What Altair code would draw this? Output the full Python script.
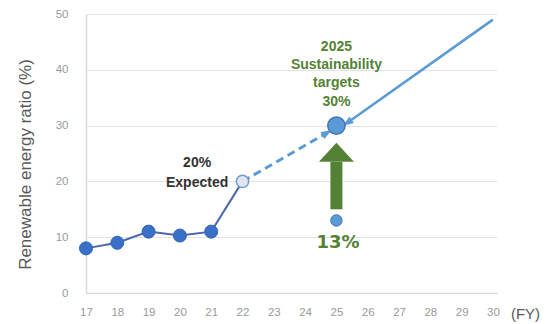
import math
import altair as alt
import pandas as pd

# ---- data ----
years = [17, 18, 19, 20, 21, 22]
ratios = [8, 9, 11, 10.3, 11, 20]
actual_flag = [True, True, True, True, True, False]

target_year, target_value = 25, 30
plan_year, plan_value = 25, 13

dash_start = (22, 20)
dash_end = (24.7, 28.7)
arrow_start = (30, 49)
arrow_end = (25.35, 30.5)

green_shaft = (15, 23.5)
green_head_base = 23.5

x_ticks = list(range(17, 31))
y_ticks = [0, 10, 20, 30, 40, 50]

expected_lines = ["20%", "Expected"]
expected_pos = [(20.55, 23.3), (20.55, 19.7)]
target_lines = ["2025", "Sustainability", "targets", "30%"]
target_ys = [44.1, 40.9, 37.6, 34.2]
plan_label = "13%"
plan_label_pos = (25.05, 9.0)

# ---- layout ----
W, H = 411, 279
XDOM = [17, 30.13]
YDOM = [0, 50]
px_x = W / (XDOM[1] - XDOM[0])
px_y = H / (YDOM[1] - YDOM[0])

def screen_angle(p0, p1):
    dx = (p1[0] - p0[0]) * px_x
    dy = -(p1[1] - p0[1]) * px_y
    return math.degrees(math.atan2(dy, dx)) % 360

FONT = "Liberation Sans"
DARK_LINE = "#4a67ad"
DARK_PT = "#3a6fc7"
LIGHT_BLUE = "#5b9bd5"
GREEN = "#548235"

xs = alt.Scale(domain=XDOM, nice=False, zero=False)
ys = alt.Scale(domain=YDOM, nice=False)

x_axis = alt.Axis(values=x_ticks, grid=False, ticks=False, domainColor="#d9d9d9",
                  domainWidth=1.5, labelColor="#9a9a9a", labelFontSize=11.5,
                  labelFont=FONT, labelPadding=13, labelOverlap=False,
                  labelFlush=False, title="(FY)", titleFont=FONT,
                  titleFontSize=15, titleFontWeight="normal", titleColor="#595959",
                  titleX=439, titleY=20, titleAlign="center", titleBaseline="middle")
y_axis = alt.Axis(values=y_ticks, grid=True, gridColor="#e3e3e3", gridWidth=1.2,
                  ticks=False, domainColor="#d9d9d9", domainWidth=1.5,
                  labelColor="#9a9a9a", labelFontSize=11.5, labelFont=FONT,
                  labelPadding=18, labelOverlap=False,
                  title="Renewable energy ratio (%)", titleFont=FONT,
                  titleFontSize=17, titleFontWeight="normal", titleColor="#595959",
                  titleX=-61, titleY=150, titleAngle=270, titleAlign="center",
                  titleBaseline="middle")


def X(field):
    return alt.X(field, type="quantitative", scale=xs, axis=x_axis)


def Y(field):
    return alt.Y(field, type="quantitative", scale=ys, axis=y_axis)


hist = pd.DataFrame({"year": years, "ratio": ratios, "actual": actual_flag})

base_line = alt.Chart(hist).mark_line(color=DARK_LINE, strokeWidth=2).encode(
    x=X("year"), y=Y("ratio"))

dash_df = pd.DataFrame({"x": [dash_start[0]], "y": [dash_start[1]],
                        "x2": [dash_end[0]], "y2": [dash_end[1]]})
dash = alt.Chart(dash_df).mark_rule(color=LIGHT_BLUE, strokeWidth=3,
                                    strokeDash=[8, 5]).encode(
    x=X("x"), y=Y("y"), x2="x2", y2="y2")
dash_head = alt.Chart(pd.DataFrame({"x": [dash_end[0]], "y": [dash_end[1]]})).mark_point(
    shape="M-1,-0.75L1,0L-1,0.75Z", filled=True, color=LIGHT_BLUE, opacity=1, size=110,
    angle=screen_angle(dash_start, dash_end)).encode(x=X("x"), y=Y("y"))

arr_df = pd.DataFrame({"x": [arrow_start[0]], "y": [arrow_start[1]],
                       "x2": [arrow_end[0]], "y2": [arrow_end[1]]})
arr = alt.Chart(arr_df).mark_rule(color=LIGHT_BLUE, strokeWidth=2.6).encode(
    x=X("x"), y=Y("y"), x2="x2", y2="y2")
arr_head = alt.Chart(pd.DataFrame({"x": [arrow_end[0]], "y": [arrow_end[1]]})).mark_point(
    shape="M-1,-0.75L1,0L-1,0.75Z", filled=True, color=LIGHT_BLUE, opacity=1, size=110,
    angle=screen_angle(arrow_start, arrow_end)).encode(x=X("x"), y=Y("y"))

shaft = alt.Chart(pd.DataFrame({"x": [target_year], "y": [green_shaft[0]],
                                "y2": [green_shaft[1]]})).mark_rule(
    color=GREEN, strokeWidth=12).encode(x=X("x"), y=Y("y"), y2="y2")
head = alt.Chart(pd.DataFrame({"x": [target_year], "y": [green_head_base]})).mark_point(
    shape="M-1,0L1,0L0,-1.09Z", filled=True, color=GREEN, opacity=1, size=1225).encode(
    x=X("x"), y=Y("y"))

pts_actual = alt.Chart(hist[hist["actual"]]).mark_circle(
    color=DARK_PT, opacity=1, size=170, stroke="#3565b5", strokeWidth=1).encode(
    x=X("year"), y=Y("ratio"))
pt_expected = alt.Chart(hist[~hist["actual"]]).mark_circle(
    color="#dde8f4", opacity=1, size=150, stroke="#7b98cb", strokeWidth=1.5).encode(
    x=X("year"), y=Y("ratio"))

tgt = alt.Chart(pd.DataFrame({"x": [target_year], "y": [target_value]})).mark_circle(
    color=LIGHT_BLUE, opacity=1, size=300, stroke="#3f72b8", strokeWidth=1.5).encode(
    x=X("x"), y=Y("y"))
plan = alt.Chart(pd.DataFrame({"x": [plan_year], "y": [plan_value]})).mark_circle(
    color=LIGHT_BLUE, opacity=1, size=130, stroke="#3f72b8", strokeWidth=1).encode(
    x=X("x"), y=Y("y"))

exp_df = pd.DataFrame({"t": expected_lines, "x": [p[0] for p in expected_pos],
                       "y": [p[1] for p in expected_pos]})
exp_txt = alt.Chart(exp_df).mark_text(font=FONT, fontSize=14, fontWeight="bold",
                                      color="#333333", align="center",
                                      baseline="middle").encode(
    x=X("x"), y=Y("y"), text="t:N")

tg_df = pd.DataFrame({"t": target_lines, "x": [target_year] * 4, "y": target_ys})
tg_txt = alt.Chart(tg_df).mark_text(font=FONT, fontSize=14, fontWeight="bold",
                                    color=GREEN, align="center",
                                    baseline="middle").encode(
    x=X("x"), y=Y("y"), text="t:N")

pl_txt = alt.Chart(pd.DataFrame({"t": [plan_label], "x": [plan_label_pos[0]],
                                 "y": [plan_label_pos[1]]})).mark_text(
    font="DejaVu Sans", fontSize=18, fontWeight="bold", color=GREEN,
    align="center", baseline="middle").encode(
    x=X("x"), y=Y("y"), text="t:N")

chart = alt.layer(
    base_line, dash, dash_head, arr, arr_head, shaft, head,
    pts_actual, pt_expected, tgt, plan, exp_txt, tg_txt, pl_txt
).properties(
    width=W, height=H,
    autosize=alt.AutoSizeParams(type="none"),
    padding={"left": 86, "top": 14, "right": 62, "bottom": 31},
    background="white",
).configure_view(stroke=None)

chart.save("out.html", embed_options={"renderer": "svg", "actions": False})
